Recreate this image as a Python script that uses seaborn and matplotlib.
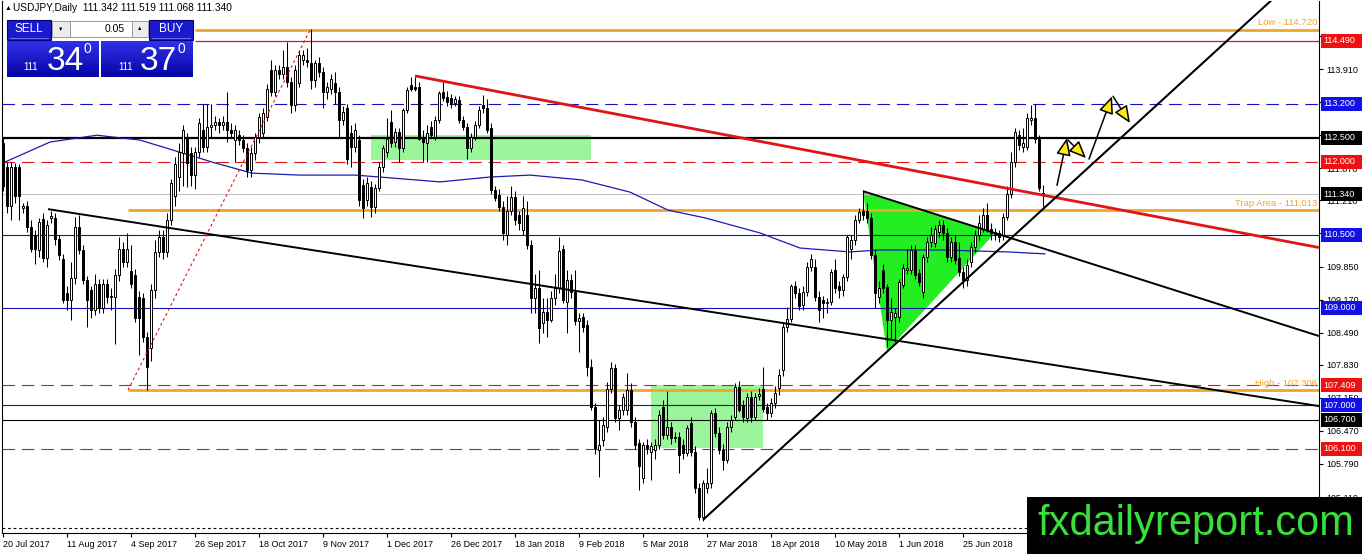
import numpy as np
import pandas as pd
import matplotlib
matplotlib.use('Agg')
import matplotlib.pyplot as plt
import matplotlib.transforms as mtransforms
from matplotlib.patches import Rectangle, Polygon
from matplotlib.colors import LinearSegmentedColormap
import seaborn as sns

sns.set_theme(style='white')
plt.rcParams['font.family'] = ['Liberation Sans', 'DejaVu Sans']
plt.rcParams['lines.scale_dashes'] = False

# ---- daily candles, USDJPY ----
opens = [
    112.40, 111.90, 111.10, 111.90, 111.90, 111.06, 111.10, 110.67, 110.50, 110.19,
    110.83, 110.02, 110.85, 110.85, 110.42, 110.00, 109.30, 109.16, 109.61, 110.67,
    110.19, 109.57, 109.37, 108.96, 109.50, 109.00, 109.50, 109.22, 109.23, 109.67,
    110.22, 109.95, 109.75, 109.67, 109.23, 109.20, 108.41, 108.17, 109.37, 110.15,
    110.46, 110.15, 110.81, 111.30, 111.70, 112.18, 112.49, 112.18, 111.73, 112.21,
    112.66, 112.31, 112.72, 112.76, 112.83, 112.76, 112.83, 112.66, 112.45, 112.55,
    112.45, 112.28, 111.83, 112.18, 112.52, 112.60, 112.93, 113.89, 113.44, 113.89,
    113.80, 113.96, 113.65, 113.17, 113.62, 114.10, 114.10, 114.03, 113.68, 114.03,
    113.85, 113.44, 113.50, 113.62, 113.44, 112.86, 113.10, 112.60, 112.31, 112.45,
    111.52, 111.22, 111.49, 111.08, 111.46, 111.90, 112.21, 112.83, 112.42, 112.62,
    112.28, 113.07, 113.58, 113.55, 113.55, 112.52, 112.38, 112.72, 112.52, 112.86,
    113.44, 113.34, 113.31, 113.22, 113.27, 112.86, 112.72, 112.28, 112.52, 112.76,
    113.17, 113.10, 112.69, 111.42, 111.32, 111.08, 110.50, 111.00, 111.28, 110.90,
    110.60, 110.91, 110.29, 109.20, 109.40, 108.68, 108.92, 108.75, 109.20, 109.40,
    110.22, 109.13, 109.57, 109.33, 108.72, 108.82, 108.65, 107.79, 106.97, 106.08,
    106.28, 106.56, 107.34, 107.76, 106.73, 106.90, 106.90, 107.31, 106.66, 106.22,
    105.50, 106.18, 106.04, 106.08, 106.18, 106.97, 106.39, 106.56, 106.35, 106.35,
    106.18, 106.01, 106.63, 106.04, 105.29, 104.70, 105.30, 105.40, 106.83, 106.42,
    106.08, 105.87, 106.56, 106.76, 107.38, 107.00, 106.73, 107.17, 106.76, 107.19,
    107.33, 106.97, 106.83, 107.04, 107.35, 107.72, 108.61, 108.78, 109.44, 109.30,
    109.06, 109.33, 109.85, 109.85, 109.23, 109.16, 109.09, 109.13, 109.78, 109.44,
    109.37, 109.64, 110.20, 110.40, 110.81, 111.00, 111.00, 110.85, 110.09, 109.23,
    109.78, 109.43, 108.75, 108.82, 108.82, 109.47, 109.78, 109.78, 110.19, 109.71,
    109.33, 110.05, 110.36, 110.33, 110.57, 110.70, 110.53, 110.05, 110.36, 110.02,
    109.74, 109.57, 109.95, 110.26, 110.50, 110.63, 110.91, 110.63, 110.57, 110.53,
    110.50, 110.87, 111.35, 112.00, 112.55, 112.31, 112.31, 112.86, 112.90, 112.48,
    111.342]
highs = [
    112.50, 112.00, 112.00, 111.98, 111.95, 111.15, 111.20, 110.80, 110.60, 110.85,
    110.95, 110.80, 111.00, 110.95, 110.50, 110.10, 109.45, 109.95, 110.87, 110.90,
    110.30, 109.65, 109.45, 109.70, 109.60, 109.60, 109.60, 109.40, 109.80, 110.45,
    110.35, 110.54, 110.30, 109.80, 109.35, 109.30, 108.50, 109.50, 110.40, 110.60,
    110.60, 110.95, 111.65, 112.10, 112.40, 112.75, 112.60, 112.30, 112.30, 112.90,
    113.20, 113.20, 113.20, 112.95, 112.90, 112.95, 113.44, 112.80, 112.75, 112.65,
    112.55, 112.40, 112.30, 112.60, 113.00, 113.10, 113.60, 114.10, 114.00, 114.00,
    114.30, 114.47, 113.75, 114.00, 114.30, 114.30, 114.35, 114.73, 114.10, 114.15,
    113.95, 113.65, 113.80, 113.85, 113.55, 113.15, 113.20, 112.75, 112.80, 112.55,
    111.65, 111.70, 111.60, 111.55, 112.00, 112.35, 112.90, 113.07, 112.70, 112.70,
    113.10, 113.55, 113.75, 113.75, 113.65, 112.65, 112.75, 112.85, 112.95, 113.45,
    113.65, 113.45, 113.40, 113.35, 113.35, 112.95, 112.80, 112.60, 112.85, 113.15,
    113.37, 113.30, 112.80, 111.50, 111.45, 111.20, 111.30, 111.50, 111.40, 111.00,
    111.30, 111.20, 110.40, 109.70, 109.78, 109.20, 109.20, 109.35, 109.70, 110.46,
    110.30, 109.78, 109.70, 109.78, 108.90, 108.90, 108.75, 107.95, 107.05, 106.70,
    106.75, 107.48, 107.89, 107.85, 107.00, 107.25, 107.65, 107.45, 106.75, 106.30,
    106.25, 106.30, 106.25, 106.30, 106.90, 107.10, 107.28, 106.65, 106.45, 106.45,
    106.30, 106.60, 106.75, 106.15, 105.40, 105.45, 105.70, 106.90, 106.95, 106.55,
    106.20, 106.65, 106.80, 107.45, 107.50, 107.10, 107.25, 107.30, 107.25, 107.35,
    107.79, 107.05, 107.15, 107.40, 107.75, 108.70, 109.02, 109.50, 109.55, 109.40,
    109.45, 109.95, 110.10, 110.00, 109.35, 109.25, 109.20, 109.80, 110.00, 109.55,
    109.70, 110.50, 110.50, 110.90, 111.05, 111.42, 111.15, 110.95, 110.20, 109.55,
    109.90, 109.50, 109.20, 109.00, 109.60, 109.90, 110.20, 110.30, 110.30, 109.80,
    110.10, 110.45, 110.67, 110.70, 110.80, 110.80, 110.65, 110.45, 110.50, 110.35,
    109.85, 110.00, 110.35, 110.60, 110.90, 111.05, 111.15, 110.75, 110.65, 110.60,
    110.95, 111.50, 112.20, 112.70, 112.65, 112.70, 113.00, 113.17, 113.20, 112.55,
    111.519]
lows = [
    111.40, 110.95, 110.80, 111.15, 110.80, 110.95, 110.55, 110.15, 109.90, 110.05,
    109.95, 109.84, 110.75, 110.30, 109.98, 109.10, 108.95, 108.75, 109.50, 110.10,
    109.50, 108.60, 108.80, 108.85, 108.90, 108.90, 109.10, 108.95, 108.25, 109.55,
    109.85, 109.85, 109.40, 108.70, 108.03, 108.30, 107.32, 107.90, 109.20, 110.05,
    110.00, 110.05, 110.70, 111.10, 111.40, 111.50, 111.49, 111.50, 111.45, 112.10,
    112.20, 112.20, 112.50, 112.65, 112.60, 112.65, 112.41, 112.50, 112.00, 112.35,
    112.20, 111.70, 111.70, 112.05, 112.40, 112.50, 112.85, 113.35, 113.35, 113.70,
    113.70, 113.55, 113.00, 113.05, 113.55, 114.00, 113.95, 113.50, 113.55, 113.75,
    113.10, 113.30, 113.40, 113.20, 112.50, 112.75, 111.95, 111.90, 112.20, 111.10,
    110.85, 111.10, 110.87, 110.95, 111.40, 111.80, 112.10, 112.30, 112.30, 112.00,
    112.20, 113.00, 113.45, 113.45, 112.45, 112.00, 112.00, 112.50, 112.45, 112.80,
    113.25, 113.15, 113.10, 113.15, 112.80, 112.65, 112.07, 112.20, 112.45, 112.70,
    113.00, 112.60, 111.35, 111.20, 111.00, 110.40, 110.30, 110.90, 110.70, 110.60,
    110.50, 110.20, 108.90, 108.90, 108.27, 108.48, 108.40, 108.70, 109.05, 109.30,
    109.10, 108.48, 109.20, 108.65, 108.10, 108.50, 107.60, 106.90, 106.00, 105.53,
    106.15, 106.45, 107.25, 106.65, 106.49, 106.80, 106.80, 106.55, 106.10, 105.26,
    105.40, 106.00, 105.46, 105.90, 106.10, 106.30, 106.30, 106.20, 106.25, 105.60,
    105.90, 105.95, 105.95, 105.20, 104.64, 104.62, 105.20, 105.30, 106.35, 106.00,
    105.67, 105.80, 106.45, 106.70, 106.85, 106.65, 106.65, 106.65, 106.70, 107.10,
    106.85, 106.70, 106.75, 106.95, 107.20, 107.60, 108.50, 108.70, 109.20, 108.95,
    108.95, 109.25, 109.75, 109.15, 108.70, 108.80, 108.90, 109.05, 109.30, 109.20,
    109.25, 109.55, 110.00, 110.30, 110.75, 110.80, 110.75, 110.00, 109.00, 109.10,
    109.30, 108.20, 108.34, 108.30, 108.70, 109.40, 109.70, 109.70, 109.60, 109.45,
    109.20, 109.95, 110.25, 110.25, 110.45, 110.40, 109.95, 109.95, 109.90, 109.65,
    109.40, 109.45, 109.85, 110.15, 110.40, 110.55, 110.55, 110.40, 110.40, 110.35,
    110.40, 110.80, 111.25, 111.90, 112.25, 112.20, 112.25, 112.75, 112.40, 111.40,
    111.068]
closes = [
    111.50, 111.10, 111.90, 111.30, 111.30, 111.10, 110.67, 110.22, 110.22, 110.77,
    110.02, 110.70, 110.89, 110.42, 110.09, 109.16, 109.16, 109.61, 110.67, 110.19,
    109.57, 109.16, 108.96, 109.50, 109.00, 109.50, 109.23, 109.25, 109.67, 110.22,
    109.95, 110.22, 109.50, 108.79, 108.79, 108.41, 107.79, 109.37, 110.15, 110.46,
    110.15, 110.81, 111.56, 111.95, 112.21, 112.66, 111.97, 111.73, 112.21, 112.81,
    112.31, 112.72, 112.76, 112.83, 112.76, 112.83, 112.66, 112.59, 112.66, 112.45,
    112.28, 111.83, 112.18, 112.52, 112.93, 113.00, 113.51, 113.44, 113.89, 113.80,
    113.96, 113.65, 113.17, 113.89, 114.20, 114.20, 114.05, 113.68, 114.03, 113.85,
    113.44, 113.55, 113.70, 113.44, 112.86, 113.03, 112.07, 112.30, 112.66, 111.22,
    111.05, 111.56, 111.08, 111.46, 111.90, 112.28, 112.48, 112.38, 112.62, 112.28,
    113.07, 113.48, 113.51, 113.51, 112.48, 112.42, 112.59, 112.55, 112.86, 113.41,
    113.31, 113.24, 113.20, 113.29, 112.86, 112.72, 112.28, 112.52, 112.76, 113.07,
    113.10, 112.66, 111.42, 111.25, 111.08, 110.53, 111.00, 111.28, 110.80, 110.75,
    111.05, 110.29, 109.20, 109.40, 108.58, 108.92, 108.75, 109.20, 109.40, 110.16,
    109.16, 109.57, 109.33, 108.72, 108.79, 108.61, 107.79, 106.97, 106.11, 106.18,
    106.59, 107.34, 107.76, 106.73, 106.90, 107.17, 107.31, 106.66, 106.18, 105.74,
    106.18, 106.11, 106.15, 106.18, 106.80, 106.39, 106.56, 106.32, 106.32, 105.97,
    106.01, 106.52, 106.04, 105.29, 104.70, 105.39, 105.40, 106.83, 106.42, 106.08,
    105.87, 106.56, 106.69, 107.38, 106.90, 106.76, 107.17, 106.76, 107.17, 107.22,
    106.93, 106.83, 107.04, 107.24, 107.62, 108.61, 108.78, 109.44, 109.30, 109.03,
    109.33, 109.85, 110.00, 109.23, 108.96, 109.09, 109.13, 109.74, 109.40, 109.37,
    109.64, 110.46, 110.40, 110.81, 110.98, 110.90, 110.85, 110.09, 109.30, 109.40,
    109.40, 108.75, 108.92, 108.89, 109.54, 109.81, 109.81, 110.19, 109.67, 109.54,
    110.05, 110.36, 110.50, 110.63, 110.70, 110.53, 110.05, 110.36, 109.98, 109.74,
    109.57, 109.88, 110.26, 110.50, 110.74, 110.91, 110.63, 110.53, 110.50, 110.46,
    110.87, 111.35, 112.00, 112.62, 112.35, 112.40, 112.90, 112.90, 112.48, 111.46,
    111.340]

date_labels = ['20 Jul 2017', '11 Aug 2017', '4 Sep 2017', '26 Sep 2017', '18 Oct 2017',
               '9 Nov 2017', '1 Dec 2017', '26 Dec 2017', '18 Jan 2018', '9 Feb 2018',
               '5 Mar 2018', '27 Mar 2018', '18 Apr 2018', '10 May 2018', '1 Jun 2018',
               '25 Jun 2018']
price_ticks = [114.59, 113.91, 113.23, 112.55, 111.87, 111.21, 110.53, 109.85,
               109.17, 108.49, 107.83, 107.15, 106.47, 105.79, 105.11]
# tick labels that sit completely under a coloured price box
hidden_ticks = [113.23, 112.55, 110.53]

# moving average (blue), sampled along the curve
ma_bars = [0, 11.75, 23.5, 34.25, 44.25, 53, 62.25, 74.25, 88, 94.25, 109.25, 121.75,
           131.75, 144.75, 156.75, 166.25, 175.5, 189.25, 199.25, 211.75, 219.25,
           234.75, 251.25, 260.5]
ma_values = [111.98, 112.41, 112.55, 112.45, 112.20, 111.98, 111.77, 111.73, 111.73,
             111.69, 111.59, 111.69, 111.73, 111.63, 111.38, 111.01, 110.85, 110.54,
             110.23, 110.15, 110.19, 110.19, 110.15, 110.11]

# horizontal levels
blue_levels = [110.5, 109.0, 107.0]
blue_dashed_levels = [113.2]
red_dashed_levels = [112.0, 107.409, 106.1]
box_levels = [114.49, 113.2, 112.5, 112.0, 111.34, 110.5, 109.0, 107.409, 107.0, 106.7, 106.1]
box_colors = ['#EE1111', '#1111E6', 'black', '#EE1111', 'black', '#1111E6', '#1111E6',
              '#EE1111', '#1111E6', 'black', '#EE1111']
orange_levels = [114.72, 111.013, 107.306]
orange_start = [48, 31.25, 31.25]
orange_texts = ['Low - 114.720', 'Trap Area - 111.013', 'High - 107.306']

# trend lines: (bar0, price0, bar1, price1)
red_trend = [103, 113.77, 329, 110.24]
black_long = [11.25, 111.03, 329, 106.98]
black_tri = [215, 111.40, 329, 108.42]
black_up = [175, 104.64, 329, 116.22]
red_dotted = [31.25, 107.31, 77, 114.75]

triangle_bars = [215, 221, 248]
triangle_prices = [111.38, 108.11, 110.54]
zones = [(92, 112.04, 147, 112.55), (162, 106.12, 190, 107.41)]

arrows = [(263.5, 111.52, 266.0, 112.49), (266.25, 112.45, 270.75, 112.08),
          (271.5, 112.06, 277.25, 113.35), (277.5, 113.35, 281.75, 112.80)]

df = pd.DataFrame({'open': opens, 'high': highs, 'low': lows, 'close': closes})
df['bar'] = np.arange(len(df))
up = df['close'] >= df['open']

fig = plt.figure(figsize=(13.62, 5.54), dpi=100, facecolor='white')
ax = fig.add_axes([2 / 1362, 21 / 554, 1317 / 1362, 532 / 554])
ax.set_facecolor('white')
ax.set_xlim(-0.25, 329)
ax.set_ylim(104.37, 115.31)

ORANGE = '#F2A52A'
RED = '#E01515'
BLUE = '#1212B8'

# shaded zones and triangle
for b0, p0, b1, p1 in zones:
    ax.add_patch(Rectangle((b0, p0), b1 - b0, p1 - p0, facecolor='#9BF59B', edgecolor='none', zorder=1))
ax.add_patch(Polygon(list(zip(triangle_bars, triangle_prices)), closed=True,
                     facecolor='#22EE22', edgecolor='none', zorder=1))

# horizontal levels
for lv in blue_levels:
    ax.axhline(lv, color=BLUE, lw=0.8, zorder=2)
for lv in blue_dashed_levels:
    ax.axhline(lv, color=BLUE, lw=0.8, dashes=(9, 5), zorder=2)
for lv in red_dashed_levels:
    ax.axhline(lv, color=RED, lw=0.8, dashes=(9, 5), zorder=2)
ax.axhline(112.5, color='black', lw=1.6, zorder=2)
ax.axhline(106.7, color='black', lw=0.8, zorder=2)
ax.axhline(111.34, color='#C4C4C4', lw=0.8, zorder=2)
ax.axhline(104.475, color='black', lw=0.8, dashes=(2, 2), zorder=2)
ax.hlines(114.49, 48, 329, color=RED, lw=0.9, zorder=2)
for lv, st in zip(orange_levels, orange_start):
    ax.hlines(lv, st, 329, color=ORANGE, lw=2.0, zorder=2)

# moving average
sns.lineplot(x=ma_bars, y=ma_values, ax=ax, color='#1A1AB4', linewidth=0.9, zorder=2.5)

# candles
ax.vlines(df['bar'], df['low'], df['high'], color='black', lw=0.75, zorder=3)
body = (df['close'] - df['open']).abs().clip(lower=0.015)
ax.bar(df['bar'], body, bottom=np.minimum(df['open'], df['close']), width=0.7,
       color=np.where(up, 'white', 'black'), edgecolor='black', linewidth=0.7, zorder=4)

# trend lines
for seg, col, lw in [(red_trend, RED, 2.0), (black_long, 'black', 1.4),
                     (black_tri, 'black', 1.4), (black_up, 'black', 1.5)]:
    ax.plot([seg[0], seg[2]], [seg[1], seg[3]], color=col, lw=lw, zorder=5,
            solid_capstyle='butt')
ax.plot([red_dotted[0], red_dotted[2]], [red_dotted[1], red_dotted[3]], color=RED,
        lw=0.8, dashes=(2, 2), zorder=5)

# hand drawn arrows
for x0, y0, x1, y1 in arrows:
    ax.annotate('', xy=(x1, y1), xytext=(x0, y0),
                arrowprops=dict(arrowstyle='-|>,head_length=0.75,head_width=0.32',
                                fc='#FFE81A', ec='black', lw=1.1, mutation_scale=14,
                                shrinkA=0, shrinkB=0), zorder=6)

# axes styling
for side in ['left', 'bottom', 'right']:
    ax.spines[side].set_visible(True)
    ax.spines[side].set_color('black')
    ax.spines[side].set_linewidth(0.8)
ax.spines['top'].set_visible(False)
ax.grid(False)

ax.yaxis.tick_right()
ax.set_yticks(price_ticks)
ax.set_yticklabels(['' if v in hidden_ticks else f'{v:.3f}' for v in price_ticks])
ax.tick_params(axis='y', which='both', left=False, right=True, direction='out', length=3,
               width=0.8, color='black', labelsize=6.5, pad=2, labelcolor='black')
ax.set_xticks(range(0, 16 * len(date_labels), 16))
ax.set_xticklabels(date_labels, ha='left')
ax.tick_params(axis='x', bottom=True, direction='out', length=3, width=0.8, color='black',
               labelsize=6.5, pad=2, labelcolor='black')
ax.set_xlabel('')
ax.set_ylabel('')

# right-axis price boxes
trans = mtransforms.blended_transform_factory(ax.transAxes, ax.transData)
px = 1 / 1317
for lv, col in zip(box_levels, box_colors):
    ax.add_patch(Rectangle((1 + 2 * px, lv - 0.144), 41 * px, 0.288, transform=trans,
                           facecolor=col, edgecolor='none', clip_on=False, zorder=8))
    ax.text(1 + 4 * px, lv, f'{lv:.3f}', transform=trans, color='white', fontsize=6.5,
            ha='left', va='center', zorder=9, clip_on=False)
for lv, txt in zip(orange_levels, orange_texts):
    ax.text(1 - 2 * px, lv + 0.05, txt, transform=trans, color=ORANGE, fontsize=6.8,
            ha='right', va='bottom', zorder=6)

# ---- overlay in pixel space: title, trading panel, watermark ----
ov = fig.add_axes([0, 0, 1, 1], zorder=10)
ov.patch.set_alpha(0)
ov.axis('off')

ov.text(5, 8, '\u25b2', fontsize=5, va='center', ha='left', color='black')
ov.text(13, 8, 'USDJPY,Daily  111.342 111.519 111.068 111.340', fontsize=7.3,
        va='center', ha='left', color='black')

for x0, x1, lab in [(7, 51, 'SELL'), (149, 193, 'BUY')]:
    ov.add_patch(Rectangle((x0, 20), x1 - x0, 20, facecolor='#1A1ACC', edgecolor='#00007A', lw=0.8))
    ov.plot([x0 + 3, x1 - 3], [38, 38], color='#6A6AF5', lw=0.8)
    ov.text((x0 + x1) / 2, 29, lab, color='white', fontsize=8.5, ha='center', va='center')
ov.add_patch(Rectangle((52, 21), 18, 16, facecolor='#EDEDED', edgecolor='#9A9A9A', lw=0.7))
ov.text(61, 29, '\u25bc', fontsize=4, ha='center', va='center', color='black')
ov.add_patch(Rectangle((70, 21), 62, 16, facecolor='white', edgecolor='#9A9A9A', lw=0.7))
ov.text(125, 29, '0.05', fontsize=7.5, ha='right', va='center', color='black')
ov.add_patch(Rectangle((132, 21), 16, 16, facecolor='#EDEDED', edgecolor='#9A9A9A', lw=0.7))
ov.text(140, 29, '\u25b2', fontsize=4, ha='center', va='center', color='black')

grad = np.linspace(0, 1, 50).reshape(-1, 1)
cmap = LinearSegmentedColormap.from_list('mt4', ['#3030EA', '#0505A5'])
for x0, big, xs in [(7, '34', (23, 47, 83)), (101, '37', (118, 140, 178))]:
    ov.imshow(grad, extent=(x0, x0 + 92, 77, 41), cmap=cmap, aspect='auto',
              origin='upper', zorder=1)
    ov.text(xs[0], 70, '111', fontsize=7, color='white', ha='left', va='baseline', zorder=2)
    ov.text(xs[1], 70, big, fontsize=24, color='white', ha='left', va='baseline', zorder=2)
    ov.text(xs[2], 53, '0', fontsize=10, color='white', ha='left', va='baseline', zorder=2)

ov.add_patch(Rectangle((1027, 497), 335, 57, facecolor='black', edgecolor='none', zorder=3))
ov.text(1196, 524, 'fxdailyreport.com', color='#3AE03A', fontsize=30, ha='center',
        va='center', zorder=4)

ov.set_xlim(0, 1362)
ov.set_ylim(554, 0)

fig.savefig('out.png', dpi=100, facecolor='white')
